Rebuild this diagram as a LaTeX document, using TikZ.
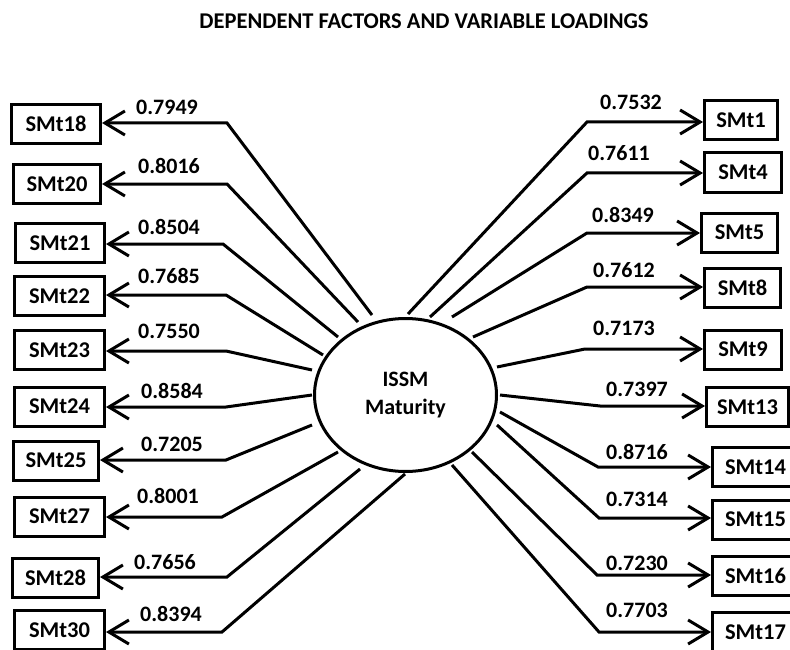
\documentclass[tikz,border=0pt]{standalone}
\usepackage{fontspec}
\setmainfont{Carlito}
\usetikzlibrary{arrows.meta,shapes.geometric}

\tikzset{
  item/.style={draw, line width=3pt, rectangle, minimum height=39pt, inner sep=0pt,
               font=\fontsize{22.5}{26}\selectfont\bfseries},
  factor/.style={draw, line width=3pt, ellipse, minimum width=182pt, minimum height=153pt,
                 inner sep=0pt, align=center, font=\fontsize{22}{28}\selectfont\bfseries},
  load/.style={line width=3pt, line join=miter, -{Straight Barb[length=20pt,width=24pt]}},
  lbl/.style={inner sep=0pt, font=\fontsize{22}{26}\selectfont\bfseries},
  heading/.style={inner sep=0pt, font=\fontsize{22.5}{26}\selectfont\bfseries}
}

\begin{document}
\begin{tikzpicture}[x=1pt,y=-1pt]
  \useasboundingbox (0,0) rectangle (790,650);
  \fill[white] (0,0) rectangle (790,650);
  \clip (0,0) rectangle (790,650);

  \node[heading] (title) at (424,21) {DEPENDENT FACTORS AND VARIABLE LOADINGS};

  % latent factor
  \node[factor] (f) at (405.5,395) {ISSM\\Maturity};

  % indicators on the left
  \node[item, minimum width=89pt] (b18) at (56,124)    {SMt18};
  \node[item, minimum width=87pt] (b20) at (57,184)    {SMt20};
  \node[item, minimum width=89pt] (b21) at (60,243)    {SMt21};
  \node[item, minimum width=90pt] (b22) at (59.5,296)  {SMt22};
  \node[item, minimum width=90pt] (b23) at (59.5,350)  {SMt23};
  \node[item, minimum width=90pt] (b24) at (59.5,406.5){SMt24};
  \node[item, minimum width=85pt] (b25) at (56,460.5)  {SMt25};
  \node[item, minimum width=90pt] (b27) at (59.5,516.5){SMt27};
  \node[item, minimum width=86pt] (b28) at (55.5,577.5){SMt28};
  \node[item, minimum width=90pt] (b30) at (59.5,630)  {SMt30};

  % indicators on the right
  \node[item, minimum width=73pt] (b1)  at (741,120)   {SMt1};
  \node[item, minimum width=77pt] (b4)  at (743,172.5) {SMt4};
  \node[item, minimum width=76pt] (b5)  at (739.5,232.5){SMt5};
  \node[item, minimum width=76pt] (b8)  at (742.5,287.5){SMt8};
  \node[item, minimum width=77pt] (b9)  at (743,349.5) {SMt9};
  \node[item, minimum width=82pt] (b13) at (747.5,407) {SMt13};
  \node[item, minimum width=86pt] (b14) at (755.5,467) {SMt14};
  \node[item, minimum width=86pt] (b15) at (755.5,519.5){SMt15};
  \node[item, minimum width=86pt] (b16) at (755.5,576) {SMt16};
  \node[item, minimum width=86pt] (b17) at (755.5,632) {SMt17};

  % points where the loading lines leave the factor
  \coordinate (s18) at (372,315);
  \coordinate (s20) at (358,322);
  \coordinate (s21) at (338,337);
  \coordinate (s22) at (323,355);
  \coordinate (s23) at (312,370);
  \coordinate (s24) at (312,395);
  \coordinate (s25) at (312,425);
  \coordinate (s27) at (338,452);
  \coordinate (s28) at (360,469);
  \coordinate (s30) at (405,474);
  \coordinate (s1)  at (408,314);
  \coordinate (s4)  at (430,317);
  \coordinate (s5)  at (452,317);
  \coordinate (s8)  at (473,337);
  \coordinate (s9)  at (497,367);
  \coordinate (s13) at (500,395);
  \coordinate (s14) at (500,412);
  \coordinate (s15) at (497,425);
  \coordinate (s16) at (472,452);
  \coordinate (s17) at (452,465);

  % knees of the loading lines
  \coordinate (k18) at (227,123);
  \coordinate (k20) at (227,184);
  \coordinate (k21) at (223,244);
  \coordinate (k22) at (226,295);
  \coordinate (k23) at (226,351);
  \coordinate (k24) at (226,407);
  \coordinate (k25) at (226,460);
  \coordinate (k27) at (222,517);
  \coordinate (k28) at (227,577);
  \coordinate (k30) at (222,632);
  \coordinate (k1)  at (587,122);
  \coordinate (k4)  at (587,173);
  \coordinate (k5)  at (587,233);
  \coordinate (k8)  at (587,287);
  \coordinate (k9)  at (585,349);
  \coordinate (k13) at (600,406);
  \coordinate (k14) at (598,467);
  \coordinate (k15) at (599,518);
  \coordinate (k16) at (597,575);
  \coordinate (k17) at (599,632);

  % loading lines, left
  \foreach \i in {18,20,21,22,23,24,25,27,28,30}
    \draw[load] (s\i) -- (k\i) -- (k\i -| b\i.east);
  % loading lines, right
  \foreach \i in {1,4,5,8,9,13,14,15,16,17}
    \draw[load] (s\i) -- (k\i) -- (k\i -| b\i.west);

  % loadings
  \node[lbl] (l18) at (167,107) {0.7949};
  \node[lbl] (l20) at (169,166) {0.8016};
  \node[lbl] (l21) at (169,227) {0.8504};
  \node[lbl] (l22) at (169,276) {0.7685};
  \node[lbl] (l23) at (169,331) {0.7550};
  \node[lbl] (l24) at (172,391) {0.8584};
  \node[lbl] (l25) at (172,444) {0.7205};
  \node[lbl] (l27) at (168,496) {0.8001};
  \node[lbl] (l28) at (165,562) {0.7656};
  \node[lbl] (l30) at (171,614) {0.8394};
  \node[lbl] (l1)  at (631,102) {0.7532};
  \node[lbl] (l4)  at (619,153) {0.7611};
  \node[lbl] (l5)  at (623,215) {0.8349};
  \node[lbl] (l8)  at (624,270) {0.7612};
  \node[lbl] (l9)  at (624,328) {0.7173};
  \node[lbl] (l13) at (637,389) {0.7397};
  \node[lbl] (l14) at (637,452) {0.8716};
  \node[lbl] (l15) at (637,499) {0.7314};
  \node[lbl] (l16) at (637,563) {0.7230};
  \node[lbl] (l17) at (637,610) {0.7703};
\end{tikzpicture}
\end{document}
